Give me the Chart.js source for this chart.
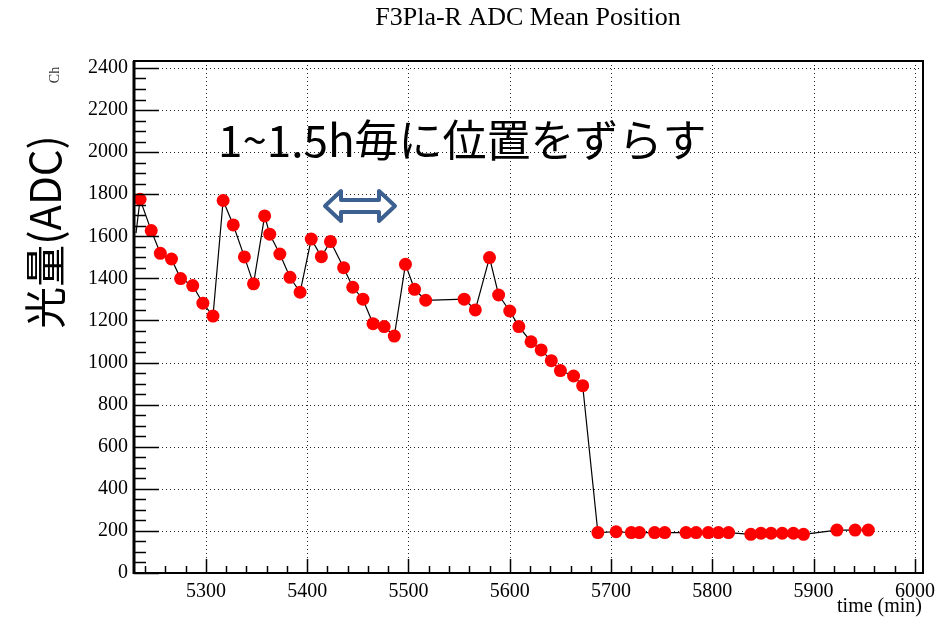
<!DOCTYPE html>
<html>
<head>
<meta charset="utf-8">
<script src="https://cdn.jsdelivr.net/npm/chart.js@4"></script>
<style>
  html, body { margin: 0; padding: 0; background: #fff; }
  #wrap { width: 946px; height: 620px; position: relative; }
</style>
</head>
<body>
<div id="wrap"><canvas id="c" width="946" height="620"></canvas></div>
<script>
// Elapsed time (min) of each measurement
const timeMin = [
  5231, 5235, 5246, 5255, 5266, 5275, 5287, 5297, 5307, 5317, 5327,
  5338, 5347, 5358, 5363, 5373, 5383, 5393, 5404, 5414, 5423, 5436,
  5445, 5455, 5465, 5476, 5486, 5497, 5506, 5517, 5555, 5566, 5580,
  5589, 5600, 5609, 5621, 5631, 5641, 5650, 5663, 5672, 5687, 5705,
  5720, 5728, 5743, 5753, 5774, 5784, 5796, 5806, 5816, 5838, 5848,
  5858, 5869, 5880, 5890, 5923, 5941, 5954
];
// Mean ADC position (ch) at each time
const adcMean = [
  1615, 1776, 1627, 1519, 1492, 1399, 1366, 1282, 1221, 1770, 1654,
  1502, 1374, 1697, 1610, 1516, 1405, 1334, 1587, 1503, 1575, 1451,
  1358, 1301, 1185, 1171, 1126, 1467, 1348, 1296, 1301, 1250, 1499,
  1321, 1245, 1171, 1099, 1060, 1009, 962, 936, 890, 192, 196,
  192, 192, 192, 192, 192, 192, 192, 192, 192, 184, 189,
  189, 189, 189, 184, 204, 204, 204
];
// Axis range and labelled ticks
const xRange = [5229, 6008];
const yRange = [0, 2433];
const xTicks = [5300, 5400, 5500, 5600, 5700, 5800, 5900, 6000];
const yTicks = [0, 200, 400, 600, 800, 1000, 1200, 1400, 1600, 1800, 2000, 2200, 2400];
const xMinorStep = 20;
const yMinorStep = 50;

const serif = '"Liberation Serif", "Times New Roman", serif';
const jp = '"Noto Sans CJK JP", "Noto Sans", sans-serif';

// Frame, dotted grid, inward ticks and free text
const framePlugin = {
  id: 'frame',
  beforeDatasetsDraw(chart) {
    const { ctx, chartArea: a, scales: { x, y } } = chart;
    ctx.save();
    ctx.strokeStyle = '#222';
    ctx.lineWidth = 1;
    ctx.setLineDash([1, 3]);
    xTicks.forEach(v => {
      const px = Math.round(x.getPixelForValue(v)) + 0.5;
      ctx.beginPath(); ctx.moveTo(px, a.top); ctx.lineTo(px, a.bottom); ctx.stroke();
    });
    yTicks.forEach(v => {
      if (v === 0) return;
      const py = Math.round(y.getPixelForValue(v)) + 0.5;
      ctx.beginPath(); ctx.moveTo(a.left, py); ctx.lineTo(a.right, py); ctx.stroke();
    });
    ctx.restore();
  },
  afterDatasetsDraw(chart) {
    const { ctx, chartArea: a, scales: { x, y } } = chart;
    ctx.save();
    ctx.strokeStyle = '#000';
    ctx.setLineDash([]);
    ctx.lineWidth = 1.5;
    // y ticks
    for (let v = yRange[0]; v <= yRange[1]; v += yMinorStep) {
      const major = v % 200 === 0;
      const py = Math.round(y.getPixelForValue(v)) + 0.5;
      ctx.beginPath(); ctx.moveTo(a.left, py); ctx.lineTo(a.left + (major ? 25 : 12), py); ctx.stroke();
    }
    // x ticks
    for (let v = Math.ceil(xRange[0] / xMinorStep) * xMinorStep; v <= xRange[1]; v += xMinorStep) {
      const major = v % 100 === 0;
      const px = Math.round(x.getPixelForValue(v)) + 0.5;
      ctx.beginPath(); ctx.moveTo(px, a.bottom); ctx.lineTo(px, a.bottom - (major ? 14 : 7)); ctx.stroke();
    }
    // frame
    ctx.lineWidth = 2;
    ctx.strokeRect(a.left, a.top, a.right - a.left, a.bottom - a.top);
    ctx.lineWidth = 3;
    ctx.beginPath(); ctx.moveTo(a.left, a.top); ctx.lineTo(a.left, a.bottom + 1); ctx.stroke();

    // title
    ctx.fillStyle = '#000';
    ctx.font = '26px ' + serif;
    ctx.textAlign = 'center';
    ctx.textBaseline = 'middle';
    ctx.fillText('F3Pla-R ADC Mean Position', 528, 18);

    // x axis title
    ctx.font = '20px ' + serif;
    ctx.textAlign = 'right';
    ctx.fillText('time (min)', 922, 607);

    // y unit
    ctx.save();
    ctx.translate(55, 75);
    ctx.rotate(-Math.PI / 2);
    ctx.font = '14px ' + serif;
    ctx.fillStyle = '#333';
    ctx.textAlign = 'center';
    ctx.fillText('Ch', 0, 0);
    ctx.restore();

    // y axis title
    ctx.save();
    ctx.translate(45, 232);
    ctx.rotate(-Math.PI / 2);
    ctx.font = '42px ' + jp;
    ctx.textAlign = 'center';
    ctx.textBaseline = 'middle';
    ctx.fillText('光量(ADC)', 0, 0);
    ctx.restore();

    // note
    ctx.font = '44px ' + jp;
    ctx.textAlign = 'left';
    ctx.textBaseline = 'middle';
    ctx.fillText('1~1.5h毎に位置をずらす', 218, 140);

    // double-headed arrow
    const x0 = 325, x1 = 395, cy = 206, hw = 15, sw = 6, hl = 16;
    ctx.beginPath();
    ctx.moveTo(x0, cy);
    ctx.lineTo(x0 + hl, cy - hw);
    ctx.lineTo(x0 + hl, cy - sw);
    ctx.lineTo(x1 - hl, cy - sw);
    ctx.lineTo(x1 - hl, cy - hw);
    ctx.lineTo(x1, cy);
    ctx.lineTo(x1 - hl, cy + hw);
    ctx.lineTo(x1 - hl, cy + sw);
    ctx.lineTo(x0 + hl, cy + sw);
    ctx.lineTo(x0 + hl, cy + hw);
    ctx.closePath();
    ctx.fillStyle = '#fff';
    ctx.fill();
    ctx.lineJoin = 'round';
    ctx.lineWidth = 4;
    ctx.strokeStyle = '#3c6090';
    ctx.stroke();
    ctx.restore();
  }
};

new Chart(document.getElementById('c'), {
  type: 'line',
  data: {
    datasets: [{
      data: timeMin.map((t, i) => ({ x: t, y: adcMean[i] })),
      borderColor: '#000',
      borderWidth: 1.2,
      backgroundColor: '#ff0000',
      pointBackgroundColor: '#ff0000',
      pointBorderColor: '#ff0000',
      pointBorderWidth: 0,
      pointRadius: ctx => ctx.dataIndex === 0 ? 0 : 6.5,
      tension: 0,
      fill: false
    }]
  },
  options: {
    responsive: false,
    animation: false,
    layout: { padding: { left: 0, top: 61, right: 23, bottom: 0 } },
    plugins: { legend: { display: false }, tooltip: { enabled: false }, title: { display: false } },
    scales: {
      x: {
        type: 'linear',
        min: xRange[0], max: xRange[1],
        grid: { display: false, drawTicks: false },
        border: { display: false },
        afterBuildTicks: s => { s.ticks = xTicks.map(v => ({ value: v })); },
        afterFit: s => { s.height = 47; },
        ticks: {
          autoSkip: false, maxRotation: 0, padding: 7, color: '#000',
          font: { family: serif, size: 20 },
          callback: v => String(v)
        }
      },
      y: {
        type: 'linear',
        min: yRange[0], max: yRange[1],
        grid: { display: false, drawTicks: false },
        border: { display: false },
        afterBuildTicks: s => { s.ticks = yTicks.map(v => ({ value: v })); },
        afterFit: s => { s.width = 134; },
        ticks: {
          autoSkip: false, padding: 6, color: '#000',
          font: { family: serif, size: 20 },
          callback: v => String(v)
        }
      }
    }
  },
  plugins: [framePlugin]
});
</script>
</body>
</html>
